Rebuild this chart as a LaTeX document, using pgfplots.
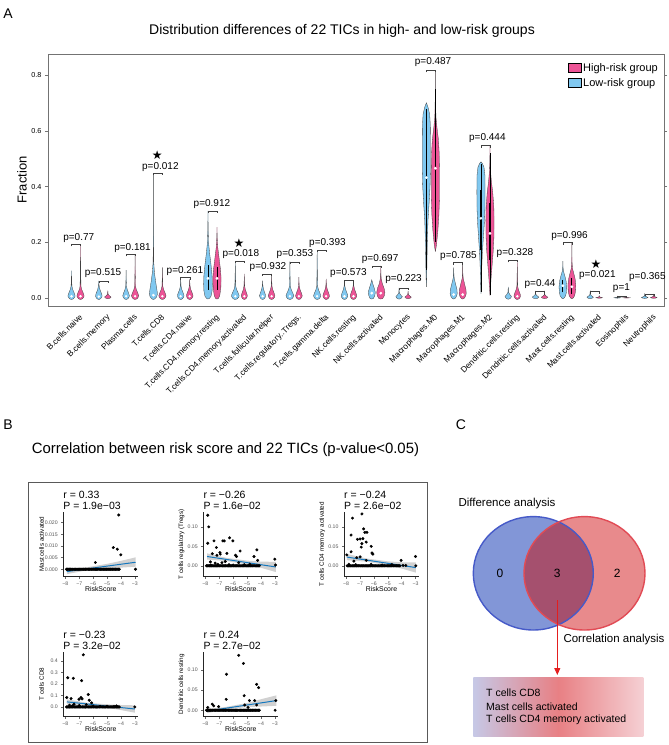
\documentclass[border=0pt]{standalone}
\usepackage{fontspec}
\setmainfont{Liberation Sans}
\newfontfamily\djv{DejaVu Sans}
\usepackage{pgfplots}
\usepackage{pgfplotstable}
\pgfplotsset{compat=1.18}
\usetikzlibrary{arrows.meta}
\newcommand\fs[1]{\fontsize{#1bp}{#1bp}\selectfont}
\definecolor{vblue}{RGB}{128,200,240}
\definecolor{vpink}{RGB}{236,84,150}
\definecolor{regblue}{RGB}{22,120,190}
\definecolor{vbl}{RGB}{130,150,215}
\definecolor{vrd}{RGB}{232,138,140}
\definecolor{vint}{RGB}{165,80,110}
\definecolor{vblb}{RGB}{70,90,200}
\definecolor{vrdb}{RGB}{225,75,85}
\definecolor{gl}{RGB}{198,200,230}
\definecolor{gm}{RGB}{232,128,132}
\definecolor{gr}{RGB}{245,208,212}

% violin templates
\pgfplotstableread{
dx a b
0 -0.006 0
-0.55 -0.003 0
-0.95 0.004 0
-1 0.009 0
-0.75 0.018 0
-0.35 0.03 0
-0.12 0.042 0
-0.04 0.021 0.5
0 0 1
0.04 0.021 0.5
0.12 0.042 0
0.35 0.03 0
0.75 0.018 0
1 0.009 0
0.95 0.004 0
0.55 -0.003 0
0 -0.006 0
}\vsmall
\pgfplotstableread{
dx a b
0 0 -0.12
-0.6 0 -0.05
-1 0 0.12
-0.5 0 0.3
-0.1 0 0.5
0 0 1
0.1 0 0.5
0.5 0 0.3
1 0 0.12
0.6 0 -0.05
0 0 -0.12
}\vtiny
\pgfplotstableread{
dx dy
-0.165 -0.008
-0.165 0
0.165 0
0.165 -0.008
}\bracket
% custom violins
\pgfplotstableread{
dx y
0 -0.006
-0.06 -0.003
-0.12 0.004
-0.15 0.015
-0.12 0.035
-0.08 0.06
-0.04 0.09
-0.01 0.13
-0.004 0.25
0 0.448
0.004 0.25
0.01 0.13
0.04 0.09
0.08 0.06
0.12 0.035
0.15 0.015
0.12 0.004
0.06 -0.003
0 -0.006
}\CDeightL
\pgfplotstableread{
dx y
0 -0.004
-0.05 -0.002
-0.11 0.006
-0.15 0.025
-0.16 0.05
-0.15 0.08
-0.11 0.12
-0.06 0.16
-0.02 0.2
-0.006 0.25
0 0.313
0.006 0.25
0.02 0.2
0.06 0.16
0.11 0.12
0.15 0.08
0.16 0.05
0.15 0.025
0.11 0.006
0.05 -0.002
0 -0.004
}\CDresL
\pgfplotstableread{
dx y
0 -0.004
-0.05 -0.002
-0.1 0.008
-0.14 0.035
-0.15 0.07
-0.13 0.1
-0.08 0.14
-0.03 0.18
-0.006 0.22
0 0.254
0.006 0.22
0.03 0.18
0.08 0.14
0.13 0.1
0.15 0.07
0.14 0.035
0.1 0.008
0.05 -0.002
0 -0.004
}\CDresH
\pgfplotstableread{
dx y
0 -0.004
-0.06 -0.002
-0.11 0.008
-0.13 0.02
-0.09 0.035
-0.04 0.05
0 0.065
0.04 0.05
0.09 0.035
0.13 0.02
0.11 0.008
0.06 -0.002
0 -0.004
}\NKL
\pgfplotstableread{
dx y
0 -0.004
-0.07 -0.002
-0.13 0.008
-0.15 0.02
-0.12 0.035
-0.06 0.05
-0.015 0.07
-0.004 0.09
0 0.115
0.004 0.09
0.015 0.07
0.06 0.05
0.12 0.035
0.15 0.02
0.13 0.008
0.07 -0.002
0 -0.004
}\NKH
\pgfplotstableread{
dx y
0 -0.004
-0.05 -0.002
-0.1 0.005
-0.13 0.015
-0.12 0.03
-0.07 0.05
-0.02 0.07
-0.005 0.09
0 0.110
0.005 0.09
0.02 0.07
0.07 0.05
0.12 0.03
0.13 0.015
0.1 0.005
0.05 -0.002
0 -0.004
}\MoneL
\pgfplotstableread{
dx y
0 -0.004
-0.05 -0.002
-0.1 0.005
-0.13 0.015
-0.12 0.03
-0.07 0.05
-0.02 0.07
-0.005 0.09
0 0.127
0.005 0.09
0.02 0.07
0.07 0.05
0.12 0.03
0.13 0.015
0.1 0.005
0.05 -0.002
0 -0.004
}\MoneH
\pgfplotstableread{
dx y
0 0.04
-0.01 0.07
-0.02 0.12
-0.035 0.2
-0.06 0.28
-0.10 0.34
-0.135 0.4
-0.15 0.46
-0.15 0.55
-0.145 0.62
-0.12 0.66
-0.06 0.685
0 0.701
0.06 0.685
0.12 0.66
0.145 0.62
0.15 0.55
0.15 0.46
0.135 0.4
0.10 0.34
0.06 0.28
0.035 0.2
0.02 0.12
0.01 0.07
0 0.04
}\MzeroL
\pgfplotstableread{
dx y
0 0.166
-0.04 0.19
-0.09 0.24
-0.13 0.3
-0.15 0.36
-0.15 0.45
-0.14 0.52
-0.11 0.57
-0.06 0.61
-0.02 0.65
-0.005 0.72
0 0.818
0.005 0.72
0.02 0.65
0.06 0.61
0.11 0.57
0.14 0.52
0.15 0.45
0.15 0.36
0.13 0.3
0.09 0.24
0.04 0.19
0 0.166
}\MzeroH
\pgfplotstableread{
dx y
0 0.015
-0.01 0.04
-0.025 0.1
-0.05 0.16
-0.09 0.22
-0.125 0.27
-0.145 0.32
-0.15 0.38
-0.145 0.44
-0.11 0.47
-0.05 0.483
0 0.489
0.05 0.483
0.11 0.47
0.145 0.44
0.15 0.38
0.145 0.32
0.125 0.27
0.09 0.22
0.05 0.16
0.025 0.1
0.01 0.04
0 0.015
}\MtwoL
\pgfplotstableread{
dx y
0 0.008
-0.015 0.03
-0.04 0.07
-0.08 0.12
-0.12 0.17
-0.145 0.22
-0.15 0.28
-0.14 0.33
-0.1 0.38
-0.05 0.42
-0.015 0.46
-0.004 0.5
0 0.548
0.004 0.5
0.015 0.46
0.05 0.42
0.1 0.38
0.14 0.33
0.15 0.28
0.145 0.22
0.12 0.17
0.08 0.12
0.04 0.07
0.015 0.03
0 0.008
}\MtwoH
\pgfplotstableread{
dx y
0 -0.003
-0.05 0.0
-0.1 0.008
-0.13 0.02
-0.14 0.04
-0.12 0.06
-0.07 0.08
-0.025 0.095
-0.006 0.11
0 0.132
0.006 0.11
0.025 0.095
0.07 0.08
0.12 0.06
0.14 0.04
0.13 0.02
0.1 0.008
0.05 0.0
0 -0.003
}\MastL
\pgfplotstableread{
dx y
0 -0.003
-0.05 0.0
-0.1 0.008
-0.135 0.025
-0.145 0.045
-0.12 0.068
-0.07 0.088
-0.025 0.105
-0.006 0.13
0 0.199
0.006 0.13
0.025 0.105
0.07 0.088
0.12 0.068
0.145 0.045
0.135 0.025
0.1 0.008
0.05 0.0
0 -0.003
}\MastH

% scatter data
\pgfplotstableread{
x y
-7.92 0
-7.86 0
-7.81 0
-7.74 0
-7.69 0
-7.63 0
-7.55 0
-7.5 0
-7.44 0
-7.37 0
-7.31 0
-7.26 0
-7.19 0
-7.12 0
-7.07 0
-7.0 0
-6.94 0
-6.88 0
-6.81 0
-6.76 0
-6.7 0
-6.63 0
-6.57 0
-6.52 0
-6.45 0
-6.38 0
-6.33 0
-6.26 0
-6.2 0
-6.13 0
-6.08 0
-6.01 0
-5.95 0
-5.88 0
-5.83 0
-5.76 0
-5.7 0
-5.64 0
-5.57 0
-5.51 0
-5.45 0
-5.38 0
-5.32 0
-5.25 0
-5.2 0
-5.13 0
-5.06 0
-5.0 0
-4.94 0
-4.88 0
-4.81 0
-4.75 0
-4.69 0
-4.62 0
-4.57 0
-4.5 0
-4.43 0
-4.37 0
-4.31 0
-4.24 0
-4.18 0
-4.12 0
}\zerorow
\pgfplotstableread{
x y
-5.84 0.0029
-4.55 0.0093
-4.26 0.0086
-4.01 0.0062
-4.16 0.0233
-2.95 0.0
}\sa
\pgfplotstableread{
x y
-7.83 0.130
-7.76 0.100
-7.83 0.058
-7.38 0.064
-7.21 0.047
-6.74 0.064
-6.64 0.064
-6.26 0.072
-6.02 0.064
-7.5 0.031
-7.17 0.027
-6.95 0.034
-6.93 0.030
-6.45 0.032
-5.83 0.027
-5.76 0.024
-5.5 0.038
-4.29 0.041
-4.5 0.024
-4.24 0.014
-3.0 0.017
-2.95 0.002
-7.64 0.010
-7.29 0.007
-6.81 0.008
-6.57 0.011
-5.6 0.008
-7.1 0.004
-6.3 0.003
-5.2 0.003
-4.8 0.004
-7.6 0.002
-6.0 0.002
}\sb
\pgfplotstableread{
x y
-7.54 0.1225
-6.86 0.1333
-7.64 0.079
-7.18 0.068
-6.99 0.069
-6.74 0.095
-6.65 0.086
-6.5 0.086
-6.86 0.057
-6.91 0.048
-6.79 0.070
-6.55 0.061
-6.19 0.050
-6.14 0.033
-6.07 0.030
-7.95 0.028
-7.64 0.036
-7.44 0.012
-7.23 0.021
-6.99 0.023
-6.55 0.014
-4.04 0.014
-3.0 0.024
-2.98 0.0
-7.8 0.004
-7.3 0.003
-6.2 0.004
-5.4 0.002
-4.7 0.003
-3.9 0.001
-3.7 0.001
}\sc
\pgfplotstableread{
x y
-6.71 0.453
-7.83 0.254
-7.43 0.249
-6.83 0.228
-6.35 0.108
-7.9 0.082
-7.59 0.073
-7.02 0.067
-6.88 0.082
-6.8 0.070
-6.28 0.058
-6.11 0.035
-4.32 0.009
-3.0 0.0
-7.38 0.023
-7.71 0.015
-7.5 0.01
-7.0 0.012
-6.5 0.02
-6.0 0.008
-5.5 0.005
-5.0 0.006
-4.5 0.004
}\sd
\pgfplotstableread{
x y
-5.6 0.136
-5.26 0.116
-6.48 0.089
-4.31 0.064
-4.17 0.056
-5.21 0.036
-6.5 0.027
-4.45 0.024
-4.83 0.024
-4.31 0.013
-2.93 0.024
-2.98 0.0
-7.5 0.015
-7.4 0.011
-7.83 0.007
-7.05 0.009
-4.93 0.007
-5.17 0.013
}\se

\newcommand\vio[4]{\addplot[fill=#4, draw=black!75, line width=0.3bp, forget plot] table[x expr=\thisrow{dx}*#2+#1, y expr=\thisrow{a}+\thisrow{b}*#3]{\vsmall};}
\newcommand\viot[4]{\addplot[fill=#4, draw=black!75, line width=0.3bp, forget plot] table[x expr=\thisrow{dx}*#2+#1, y expr=\thisrow{a}+\thisrow{b}*#3]{\vtiny};}
\newcommand\vcus[3]{\addplot[fill=#3, draw=black!75, line width=0.3bp, forget plot] table[x expr=\thisrow{dx}+#1, y=y]{#2};}
\newcommand\brk[2]{\addplot[black!75, line width=0.4bp, forget plot] table[x expr=\thisrow{dx}+#1, y expr=\thisrow{dy}+#2]{\bracket};}
\newcommand\pl[3]{\node[font=\fs{10}, inner sep=0pt] at (axis cs:#1,#2) {#3};}

\pgfplotsset{sub/.style={scale only axis, width=75bp, height=65bp, xmin=-8.15, xmax=-2.75,
  axis lines*=left, axis line style={black!85, line width=0.5bp},
  tick align=outside, major tick length=2bp, tick style={black!60, line width=0.4bp},
  scaled y ticks=false, scaled x ticks=false,
  xtick={-8,-7,-6,-5,-4,-3}, xticklabels={−8,−7,−6,−5,−4,−3},
  tick label style={font=\fs{5.2}, text=black!65},
  xlabel={RiskScore}, xlabel style={font=\fs{6.9}, at={(axis description cs:0.5,-0.19)}, anchor=center},
  ylabel style={font=\fs{6.3}, at={(axis description cs:-0.29,0.5)}, anchor=center},
  clip=false}}

\begin{document}
\begin{tikzpicture}
\useasboundingbox (0,0) rectangle (669bp,-745bp);
% ---------------- Panel A ----------------
\node[font=\fs{14}] at (8bp,-14bp) {A};
\node[font=\fs{14}] at (342bp,-31bp) {Distribution differences of 22 TICs in high- and low-risk groups};
\node[font=\fs{13}, rotate=90] at (22bp,-180bp) {Fraction};
\begin{axis}[at={(48bp,-306bp)}, anchor=south west, scale only axis, width=616bp, height=252bp,
  xmin=-0.026, xmax=22.54, ymin=-0.029, ymax=0.876,
  axis line style={black!55, line width=0.6bp},
  ytick={0,0.2,0.4,0.6,0.8}, yticklabels={0.0,0.2,0.4,0.6,0.8},
  xtick={1,...,22},
  xticklabels={B.cells.naive,B.cells.memory,Plasma.cells,T.cells.CD8,T.cells.CD4.naive,T.cells.CD4.memory.resting,T.cells.CD4.memory.activated,T.cells.follicular.helper,T.cells.regulatory..Tregs.,T.cells.gamma.delta,NK.cells.resting,NK.cells.activated,Monocytes,Macrophages.M0,Macrophages.M1,Macrophages.M2,Dendritic.cells.resting,Dendritic.cells.activated,Mast.cells.resting,Mast.cells.activated,Eosinophils,Neutrophils},
  x tick label style={rotate=45, anchor=north east, font=\fs{8.3}, inner sep=1bp, yshift=-4bp},
  y tick label style={font=\fs{7.2}},
  tick align=outside, xtick style={draw=none}, ytick style={black!55, line width=0.5bp}, major tick length=3bp,
  clip=false,
  legend style={at={(1,1)}, anchor=north east, xshift=-4bp, yshift=-7bp, draw=none, fill=none, font=\fs{11}, row sep=1.5bp, inner sep=0pt, cells={anchor=west}},
  legend image code/.code={\fill[#1] (0bp,-4.5bp) rectangle (13bp,4.5bp);}
]
\addlegendimage{fill=vpink}\addlegendentry{High-risk group}
\addlegendimage{fill=vblue}\addlegendentry{Low-risk group}
% 1
\vio{0.835}{0.13}{0.098}{vblue}\vio{1.165}{0.13}{0.193}{vpink}
% 2
\vio{1.835}{0.12}{0.061}{vblue}\viot{2.165}{0.12}{0.026}{vpink}
% 3
\vio{2.835}{0.12}{0.10}{vblue}\vio{3.165}{0.13}{0.157}{vpink}
% 4
\vcus{3.835}{\CDeightL}{vblue}\vio{4.165}{0.13}{0.11}{vpink}
% 5
\vio{4.835}{0.12}{0.072}{vblue}\vio{5.165}{0.12}{0.068}{vpink}
% 6
\vcus{5.835}{\CDresL}{vblue}\vcus{6.165}{\CDresH}{vpink}
% 7
\vio{6.835}{0.14}{0.132}{vblue}\vio{7.165}{0.11}{0.086}{vpink}
% 8
\vio{7.835}{0.11}{0.062}{vblue}\vio{8.165}{0.12}{0.086}{vpink}
% 9
\vio{8.835}{0.14}{0.130}{vblue}\vio{9.165}{0.12}{0.075}{vpink}
% 10
\vio{9.835}{0.13}{0.172}{vblue}\vio{10.165}{0.12}{0.068}{vpink}
% 11
\vio{10.835}{0.12}{0.062}{vblue}\vio{11.165}{0.12}{0.062}{vpink}
% 12
\vcus{11.835}{\NKL}{vblue}\vcus{12.165}{\NKH}{vpink}
% 13
\viot{12.835}{0.12}{0.036}{vblue}\viot{13.165}{0.12}{0.025}{vpink}
% 14
\vcus{13.835}{\MzeroL}{vblue}\vcus{14.165}{\MzeroH}{vpink}
% 15
\vcus{14.835}{\MoneL}{vblue}\vcus{15.165}{\MoneH}{vpink}
% 16
\vcus{15.835}{\MtwoL}{vblue}\vcus{16.165}{\MtwoH}{vpink}
% 17
\viot{16.835}{0.12}{0.04}{vblue}\vio{17.165}{0.12}{0.136}{vpink}
% 18
\viot{17.835}{0.12}{0.025}{vblue}\viot{18.165}{0.12}{0.022}{vpink}
% 19
\vcus{18.835}{\MastL}{vblue}\vcus{19.165}{\MastH}{vpink}
% 20
\viot{19.835}{0.12}{0.023}{vblue}\viot{20.165}{0.12}{0.008}{vpink}
% 21
\viot{20.835}{0.12}{0.006}{vblue}\viot{21.165}{0.12}{0.004}{vpink}
% 22
\viot{21.835}{0.12}{0.014}{vblue}\viot{22.165}{0.12}{0.012}{vpink}
% inner boxes
\addplot[black, line width=0.4bp, forget plot] coordinates {(13.835,0.1) (13.835,0.68)};
\addplot[black, line width=0.4bp, forget plot] coordinates {(14.165,0.2) (14.165,0.75)};
\addplot[black, line width=0.4bp, forget plot] coordinates {(15.835,0.02) (15.835,0.48)};
\addplot[black, line width=0.4bp, forget plot] coordinates {(16.165,0.01) (16.165,0.52)};
\addplot[black, line width=1.1bp, forget plot] coordinates {(13.835,0.305) (13.835,0.546)};
\addplot[black, line width=1.1bp, forget plot] coordinates {(14.165,0.364) (14.165,0.519)};
\addplot[black, line width=1.1bp, forget plot] coordinates {(15.835,0.172) (15.835,0.388)};
\addplot[black, line width=1.1bp, forget plot] coordinates {(16.165,0.136) (16.165,0.341)};
\addplot[black, line width=0.9bp, forget plot] coordinates {(5.835,0.03) (5.835,0.12)};
\addplot[black, line width=0.9bp, forget plot] coordinates {(6.165,0.03) (6.165,0.11)};
\addplot[black, line width=0.9bp, forget plot] coordinates {(18.835,0.02) (18.835,0.065)};
\addplot[black, line width=0.9bp, forget plot] coordinates {(19.165,0.015) (19.165,0.07)};
% medians
\addplot[only marks, mark=*, mark size=1.2bp, white, forget plot] coordinates {
(13.835,0.432) (14.165,0.466) (15.835,0.286) (16.165,0.232) (5.835,0.07) (6.165,0.07)
(18.835,0.044) (19.165,0.04) (11.835,0.017) (12.165,0.017) (14.835,0.012) (15.165,0.012) (3.835,0.01)};
\addplot[only marks, mark=*, mark size=1.0bp, white, forget plot] coordinates {
(0.835,0.006) (1.165,0.006) (1.835,0.005) (2.835,0.006) (3.165,0.006) (4.165,0.006) (4.835,0.006) (5.165,0.006)
(6.835,0.006) (7.165,0.006) (7.835,0.006) (8.165,0.006) (8.835,0.006) (9.165,0.006) (9.835,0.006) (10.165,0.006)
(10.835,0.006) (11.165,0.006) (17.165,0.006)};
% brackets
\brk{1}{0.193}\brk{2}{0.061}\brk{3}{0.157}\brk{4}{0.448}\brk{5}{0.074}\brk{6}{0.313}
\brk{7}{0.132}\brk{8}{0.086}\brk{9}{0.130}\brk{10}{0.172}\brk{11}{0.062}\brk{12}{0.115}
\brk{13}{0.036}\brk{14}{0.818}\brk{15}{0.127}\brk{16}{0.548}\brk{17}{0.136}\brk{18}{0.025}
\brk{19}{0.199}\brk{20}{0.023}\brk{21}{0.006}\brk{22}{0.014}
% p labels
\pl{1.10}{0.216}{p=0.77}
\pl{1.99}{0.089}{p=0.515}
\pl{3.07}{0.18}{p=0.181}
\pl{4.09}{0.471}{p=0.012}
\pl{4.99}{0.098}{p=0.261}
\pl{5.98}{0.337}{p=0.912}
\pl{7.04}{0.158}{p=0.018}
\pl{8.03}{0.110}{p=0.932}
\pl{9.02}{0.157}{p=0.353}
\pl{10.21}{0.198}{p=0.393}
\pl{10.98}{0.090}{p=0.573}
\pl{12.14}{0.140}{p=0.697}
\pl{13.0}{0.068}{p=0.223}
\pl{14.08}{0.848}{p=0.487}
\pl{15.01}{0.151}{p=0.785}
\pl{16.07}{0.574}{p=0.444}
\pl{17.08}{0.162}{p=0.328}
\pl{18.0}{0.050}{p=0.44}
\pl{19.08}{0.223}{p=0.996}
\pl{20.10}{0.083}{p=0.021}
\pl{20.98}{0.036}{p=1}
\pl{21.93}{0.075}{p=0.365}
\node[font=\djv\fs{12}] at (axis cs:3.98,0.511) {★};
\node[font=\djv\fs{12}] at (axis cs:6.97,0.197) {★};
\node[font=\djv\fs{12}] at (axis cs:20.05,0.122) {★};
\end{axis}
% ---------------- Panel B ----------------
\node[font=\fs{14}] at (8bp,-425bp) {B};
\node[font=\fs{14.9}, anchor=west, inner sep=0pt] at (31.7bp,-450bp) {Correlation between risk score and 22 TICs (p-value<0.05)};
\draw[black!65, line width=1bp] (28.3bp,-482.7bp) rectangle (427.7bp,-742.7bp);
% sub 1
\begin{axis}[sub, at={(63.3bp,-576.7bp)}, anchor=south west, ymin=-0.0032, ymax=0.0247,
  ytick={0,0.005,0.01,0.015,0.02}, yticklabels={0.000,0.005,0.010,0.015,0.020}, ylabel={Mast cells activated}]
\addplot[only marks, mark=*, mark size=1.3bp, black] table{\zerorow};
\addplot[only marks, mark=*, mark size=1.3bp, black] table{\sa};
\addplot[fill=black!30, draw=none, fill opacity=0.6] coordinates {(-7.9,0.0001) (-6.5,0.0008) (-5,0.0023) (-4,0.0036) (-2.95,0.0051) (-2.95,0.0011) (-4,0.0007) (-5,0.0004) (-6.5,-0.0005) (-7.9,-0.0021)};
\addplot[regblue, line width=1bp] coordinates {(-7.9,-0.001) (-2.95,0.003)};
\node[font=\fs{10.5}, anchor=base west, inner sep=0pt] at (rel axis cs:0,1) [yshift=13.6bp] {r = 0.33};
\node[font=\fs{10.5}, anchor=base west, inner sep=0pt] at (rel axis cs:0,1) [yshift=1.9bp] {P = 1.9e−03};
\end{axis}
% sub 2
\begin{axis}[sub, at={(203.3bp,-576.7bp)}, anchor=south west, ymin=-0.028, ymax=0.139,
  ytick={0,0.05,0.1}, yticklabels={0.00,0.05,0.10}, ylabel={T cells regulatory (Tregs)}]
\addplot[only marks, mark=*, mark size=1.3bp, black] table{\zerorow};
\addplot[only marks, mark=*, mark size=1.3bp, black] table{\sb};
\addplot[fill=black!30, draw=none, fill opacity=0.6] coordinates {(-7.88,0.032) (-6.5,0.0205) (-5,0.0133) (-4,0.0109) (-2.93,0.010) (-2.93,-0.016) (-4,-0.0051) (-5,0.0033) (-6.5,0.0125) (-7.88,0.016)};
\addplot[regblue, line width=1bp] coordinates {(-7.88,0.024) (-2.93,-0.003)};
\node[font=\fs{10.5}, anchor=base west, inner sep=0pt] at (rel axis cs:0,1) [yshift=13.6bp] {r = −0.26};
\node[font=\fs{10.5}, anchor=base west, inner sep=0pt] at (rel axis cs:0,1) [yshift=1.9bp] {P = 1.6e−02};
\end{axis}
% sub 3
\begin{axis}[sub, at={(344bp,-576.7bp)}, anchor=south west, ymin=-0.028, ymax=0.139,
  ytick={0,0.05,0.1}, yticklabels={0.00,0.05,0.10}, ylabel={T cells CD4 memory activated}]
\addplot[only marks, mark=*, mark size=1.3bp, black] table{\zerorow};
\addplot[only marks, mark=*, mark size=1.3bp, black] table{\sc};
\addplot[fill=black!30, draw=none, fill opacity=0.6] coordinates {(-7.95,0.0305) (-6.5,0.0186) (-5,0.0115) (-4,0.009) (-2.98,0.0085) (-2.98,-0.0175) (-4,-0.007) (-5,0.0015) (-6.5,0.0106) (-7.95,0.0145)};
\addplot[regblue, line width=1bp] coordinates {(-7.95,0.0225) (-2.98,-0.0045)};
\node[font=\fs{10.5}, anchor=base west, inner sep=0pt] at (rel axis cs:0,1) [yshift=13.6bp] {r = −0.24};
\node[font=\fs{10.5}, anchor=base west, inner sep=0pt] at (rel axis cs:0,1) [yshift=1.9bp] {P = 2.6e−02};
\end{axis}
% sub 4
\begin{axis}[sub, at={(63.3bp,-716.7bp)}, anchor=south west, ymin=-0.085, ymax=0.48,
  ytick={0,0.1,0.2,0.3,0.4}, yticklabels={0.0,0.1,0.2,0.3,0.4}, ylabel={T cells CD8}]
\addplot[only marks, mark=*, mark size=1.3bp, black] table{\zerorow};
\addplot[only marks, mark=*, mark size=1.3bp, black] table{\sd};
\addplot[fill=black!30, draw=none, fill opacity=0.6] coordinates {(-7.9,0.066) (-6.5,0.0373) (-5,0.0223) (-4,0.0167) (-3,0.014) (-3,-0.05) (-4,-0.0273) (-5,-0.0077) (-6.5,0.0153) (-7.9,0.022)};
\addplot[regblue, line width=1bp] coordinates {(-7.9,0.044) (-3.0,-0.018)};
\node[font=\fs{10.5}, anchor=base west, inner sep=0pt] at (rel axis cs:0,1) [yshift=13.6bp] {r = −0.23};
\node[font=\fs{10.5}, anchor=base west, inner sep=0pt] at (rel axis cs:0,1) [yshift=1.9bp] {P = 3.2e−02};
\end{axis}
% sub 5
\begin{axis}[sub, at={(203.3bp,-716.7bp)}, anchor=south west, ymin=-0.016, ymax=0.145,
  ytick={0,0.05,0.1}, yticklabels={0.00,0.05,0.10}, ylabel={Dendritic cells resting}]
\addplot[only marks, mark=*, mark size=1.3bp, black] table{\zerorow};
\addplot[only marks, mark=*, mark size=1.3bp, black] table{\se};
\addplot[fill=black!30, draw=none, fill opacity=0.6] coordinates {(-7.88,0.003) (-6.5,0.0082) (-5,0.018) (-4,0.0272) (-2.88,0.037) (-2.88,0.011) (-4,0.0092) (-5,0.008) (-6.5,0.0022) (-7.88,-0.007)};
\addplot[regblue, line width=1bp] coordinates {(-7.88,-0.002) (-2.88,0.024)};
\node[font=\fs{10.5}, anchor=base west, inner sep=0pt] at (rel axis cs:0,1) [yshift=13.6bp] {r = 0.24};
\node[font=\fs{10.5}, anchor=base west, inner sep=0pt] at (rel axis cs:0,1) [yshift=1.9bp] {P = 2.7e−02};
\end{axis}
% ---------------- Panel C ----------------
\node[font=\fs{14}] at (461bp,-425bp) {C};
\begin{axis}[at={(450bp,-745bp)}, anchor=south west, scale only axis, width=219bp, height=345bp,
  xmin=450, xmax=669, ymin=-745, ymax=-400, hide axis, clip=false]
\fill[vbl] (axis cs:533.3,-573.3) ellipse [x radius=60bp, y radius=56.7bp];
\fill[vrd] (axis cs:584.5,-573.3) ellipse [x radius=60.5bp, y radius=56.7bp];
\begin{scope}
\clip (axis cs:533.3,-573.3) ellipse [x radius=60bp, y radius=56.7bp];
\fill[vint] (axis cs:584.5,-573.3) ellipse [x radius=60.5bp, y radius=56.7bp];
\end{scope}
\draw[vblb, line width=1.4bp] (axis cs:533.3,-573.3) ellipse [x radius=60bp, y radius=56.7bp];
\draw[vrdb, line width=1.4bp] (axis cs:584.5,-573.3) ellipse [x radius=60.5bp, y radius=56.7bp];
\node[font=\fs{12}] at (axis cs:500,-573.3) {0};
\node[font=\fs{12}] at (axis cs:557.3,-573.3) {3};
\node[font=\fs{12}] at (axis cs:617.3,-573.3) {2};
\node[font=\fs{11.5}, anchor=west, inner sep=0pt] at (axis cs:458.3,-504) {Difference analysis};
\node[font=\fs{11.5}, anchor=west, inner sep=0pt] at (axis cs:563.3,-640) {Correlation analysis};
\draw[color={rgb,255:red,228;green,30;blue,30}, line width=1bp, -{Triangle[width=6bp,length=7bp]}] (axis cs:557.3,-600) -- (axis cs:557.3,-675);
\shade[left color=gl, right color=gr, middle color=gm] (axis cs:473.3,-677.3) rectangle (axis cs:643.3,-736.7);
\node[font=\fs{10.5}, anchor=west, inner sep=0pt] at (axis cs:486,-693) {T cells CD8};
\node[font=\fs{10.5}, anchor=west, inner sep=0pt] at (axis cs:486,-706.5) {Mast cells activated};
\node[font=\fs{10.5}, anchor=west, inner sep=0pt] at (axis cs:486,-720) {T cells CD4 memory activated};
\end{axis}
\end{tikzpicture}
\end{document}
